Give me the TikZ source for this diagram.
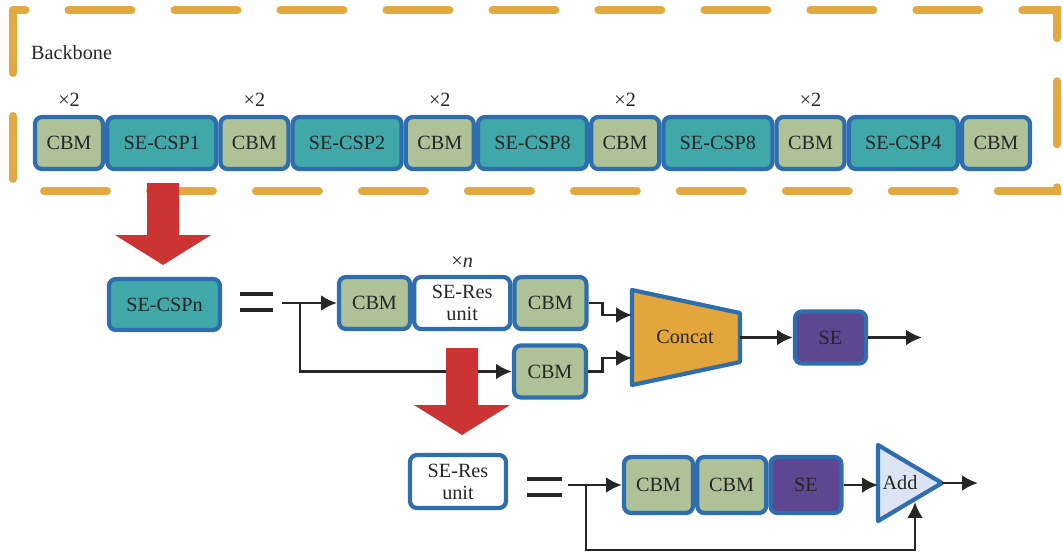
\documentclass[tikz,border=0pt]{standalone}
\usepackage{fontspec}
\setmainfont{Liberation Serif}
\usepackage{xcolor}
\usepackage{tikz}
\usetikzlibrary{positioning}
\usetikzlibrary{arrows.meta}
\definecolor{frameorange}{HTML}{E2A940}
\definecolor{boxblue}{HTML}{2E6DAE}
\definecolor{cbmgreen}{HTML}{AEC197}
\definecolor{cspteal}{HTML}{40A8A8}
\definecolor{sepurple}{HTML}{5E4690}
\definecolor{concatorange}{HTML}{E2A63C}
\definecolor{addblue}{HTML}{DCE3F2}
\definecolor{arrowred}{HTML}{CC3333}
\tikzset{edge/.style = {-{Latex[length=9pt,width=9pt]}, line width=1.6pt, draw=black!85}}

\begin{document}
\begin{tikzpicture}[x=0.02cm,y=-0.02cm,node distance=0pt,
    txt/.style={font=\fontsize{11.5}{13}\selectfont,text=black!85},
    box/.style={txt,draw=boxblue,line width=2.4pt,rounded corners=4pt,inner sep=1pt,minimum height=1.04cm,align=center},
    cbm node/.style={box,fill=cbmgreen,minimum width=1.36cm},
    csp node/.style={box,fill=cspteal,minimum width=2.18cm},
    se node/.style={box,fill=sepurple,minimum width=1.42cm},
    res node/.style={box,fill=white,minimum width=1.92cm,font=\fontsize{11.5}{12.5}\selectfont},
    eq line/.style={line width=2.4pt,draw=black!85},
    red arrow/.style={fill=arrowred}]
    \useasboundingbox (0,0) rectangle (1063,559);
    % backbone frame
    \draw[frameorange,line width=4.5pt,line cap=round,dash pattern=on 1.26cm off 0.86cm] (13,10) rectangle (1057,191);
    \node[txt,anchor=west] (backbone) at (25,53) {Backbone};
    % backbone row
    \node[cbm node] (c1) at (69,143) {CBM};
    \node[csp node,right=of c1] (s1) {SE-CSP1};
    \node[cbm node,right=of s1] (c2) {CBM};
    \node[csp node,right=of c2] (s2) {SE-CSP2};
    \node[cbm node,right=of s2] (c3) {CBM};
    \node[csp node,right=of c3] (s3) {SE-CSP8};
    \node[cbm node,right=of s3] (c4) {CBM};
    \node[csp node,right=of c4] (s4) {SE-CSP8};
    \node[cbm node,right=of s4] (c5) {CBM};
    \node[csp node,right=of c5] (s5) {SE-CSP4};
    \node[cbm node,right=of s5] (c6) {CBM};
    \foreach \c in {c1,c2,c3,c4,c5}
        \node[txt,above=0.04cm of \c] {×2};
    % SE-CSPn
    \node[csp node,minimum width=2.22cm,minimum height=1.02cm] (cspn) at (164.5,304.5) {SE-CSPn};
    \draw[eq line] (240,294) -- ++(33,0) (240,310) -- ++(33,0);
    \node[cbm node,minimum width=1.42cm] (cbmA) at (374.5,303) {CBM};
    \node[res node,right=of cbmA] (resA) {SE-Res\\unit};
    \node[cbm node,minimum width=1.44cm,right=of resA] (cbmB) {CBM};
    \node[txt,above=0.02cm of resA] (timesn) {×\textit{n}};
    \node[cbm node,minimum width=1.44cm] (cbmC) at (550,371.5) {CBM};
    \draw[boxblue,line width=2.4pt,fill=concatorange,line join=round] (632,290) -- (740,313) -- (740,362) -- (632,385) -- cycle;
    \node[txt] (concat) at (685,337) {Concat};
    \node[se node] (se1) at (830.5,337.5) {SE};
    \coordinate (in1) at (282,303);
    \coordinate (br1) at (300,303);
    \coordinate (cin1) at (632,315);
    \coordinate (cin2) at (632,358);
    \coordinate (cout) at (740,337.5);
    \coordinate (out1) at (922,337.5);
    \draw[edge] (in1) -- (cbmA.west);
    \draw[edge] (br1) |- (cbmC.west);
    \draw[edge] (cbmB.east) -- ++(14,0) |- (cin1);
    \draw[edge] (cbmC.east) -- ++(14,0) |- (cin2);
    \draw[edge] (cout) -- (se1.west);
    \draw[edge] (se1.east) -- (out1);
    % SE-Res unit
    \node[res node,minimum height=1.06cm] (resB) at (458,481.5) {SE-Res\\unit};
    \draw[eq line] (527,479) -- ++(35,0) (527,495) -- ++(35,0);
    \node[cbm node,minimum width=1.38cm,minimum height=1.12cm] (cbmD) at (658.5,485) {CBM};
    \node[cbm node,minimum width=1.38cm,minimum height=1.12cm,right=of cbmD] (cbmE) {CBM};
    \node[se node,minimum width=1.42cm,minimum height=1.12cm,right=of cbmE] (se2) {SE};
    \draw[boxblue,line width=2.4pt,fill=addblue,line join=round] (878,445) -- (942,483) -- (878,521) -- cycle;
    \node[txt] (add) at (900,483) {Add};
    \coordinate (in2) at (568,485);
    \coordinate (br2) at (586,485);
    \coordinate (addin) at (878,485);
    \coordinate (addbot) at (915,502);
    \coordinate (addout) at (942,483);
    \coordinate (out2) at (978,483);
    \draw[edge] (in2) -- (cbmD.west);
    \draw[edge] (se2.east) -- (addin);
    \draw[edge] (br2) -- ++(0,65) -| (addbot);
    \draw[edge] (addout) -- (out2);
    % red arrows
    \foreach \ax/\ay/\as in {163/183/52, 462/348/57}
        \fill[red arrow] (\ax-16,\ay) -- (\ax+16,\ay) -- (\ax+16,\ay+\as) -- (\ax+48,\ay+\as)
            -- (\ax,\ay+\as+30) -- (\ax-48,\ay+\as) -- (\ax-16,\ay+\as) -- cycle;
\end{tikzpicture}
\end{document}
